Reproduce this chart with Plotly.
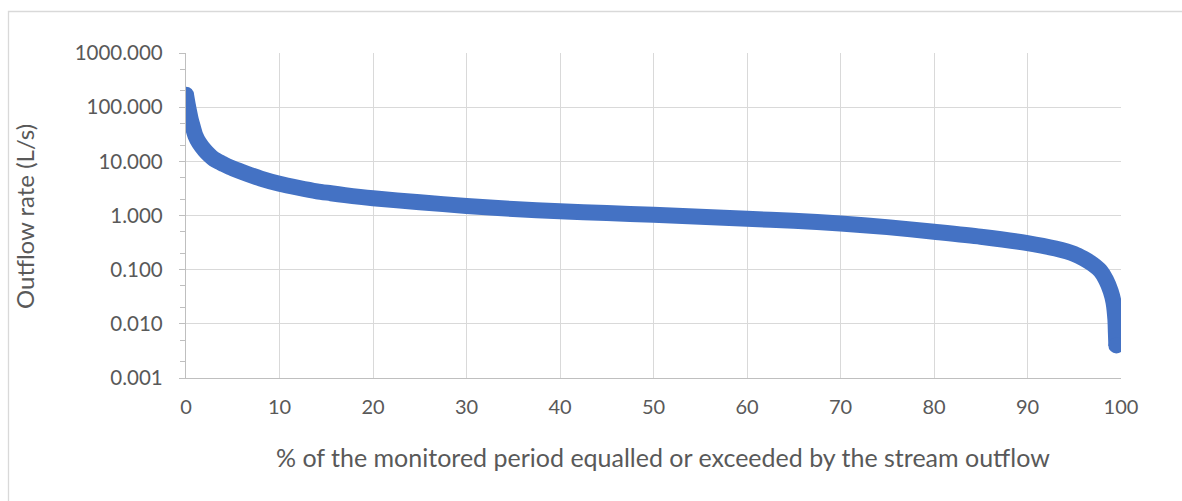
import plotly.graph_objects as go

# % of monitored period equalled or exceeded
pct = [0, 0.1, 0.2, 0.35, 0.5, 0.7, 1.0, 1.4, 2.0, 2.5, 3.0, 3.5, 4.0, 5.0, 6.5, 8.0, 10, 12,
       14, 15.5, 17, 20, 25, 30, 35, 40, 45, 50, 55, 60, 65, 70, 75, 80, 85, 90, 93, 95, 96,
       97, 97.8, 98.4, 98.9, 99.2, 99.4, 99.45, 99.5]
# Outflow rate (L/s)
flow = [170, 135, 108, 80, 60, 45, 30, 22, 16, 13, 11, 9.8, 8.9, 7.4, 5.9, 4.8, 3.85, 3.25,
        2.8, 2.58, 2.38, 2.08, 1.76, 1.50, 1.32, 1.2, 1.11, 1.03, 0.95, 0.87, 0.80, 0.71,
        0.61, 0.50, 0.405, 0.31, 0.245, 0.195, 0.16, 0.125, 0.095, 0.065, 0.04, 0.025, 0.012,
        0.007, 0.004]

x_ticks = [0, 10, 20, 30, 40, 50, 60, 70, 80, 90, 100]
y_ticks = [0.001, 0.01, 0.1, 1, 10, 100, 1000]
y_ticktext = ["0.001", "0.010", "0.100", "1.000", "10.000", "100.000", "1000.000"]

BLUE = "#4472C4"
GRID = "#d9d9d9"
AXIS = "#bfbfbf"
TXT = "#595959"
FONT = "Lato, 'Open Sans', sans-serif"

fig = go.Figure()
fig.add_trace(go.Scatter(
    x=pct, y=flow, mode="lines",
    line=dict(color=BLUE, width=16, shape="spline", smoothing=0.7),
    showlegend=False, hoverinfo="x+y",
))
# round end caps
fig.add_trace(go.Scatter(
    x=[pct[0], pct[-1]], y=[flow[0], flow[-1]], mode="markers",
    marker=dict(color=BLUE, size=16, line=dict(width=0)),
    showlegend=False, hoverinfo="skip",
))

L, R, T, B = 186, 61, 53, 123
W, H = 1182, 501
pw, ph = W - L - R, H - T - B

def px(xp):
    return (xp - L) / pw

def py(yp):
    return (H - B - yp) / ph

fig.update_layout(
    width=W, height=H,
    margin=dict(l=L, r=R, t=T, b=B, autoexpand=False),
    paper_bgcolor="white", plot_bgcolor="white",
    font=dict(family=FONT, color=TXT, size=20),
    xaxis=dict(
        range=[0, 100], tickvals=x_ticks, ticktext=[str(v) for v in x_ticks],
        showgrid=True, gridcolor=GRID, gridwidth=1.3,
        showline=True, linecolor=AXIS, linewidth=1.3,
        ticks="", ticklabelstandoff=11, zeroline=False,
        tickfont=dict(size=20, color=TXT),
    ),
    yaxis=dict(
        type="log", range=[-3, 3], tickvals=y_ticks, ticktext=y_ticktext,
        showgrid=True, gridcolor=GRID, gridwidth=1.3,
        showline=True, linecolor=AXIS, linewidth=1.3,
        ticks="outside", ticklen=6, tickcolor=AXIS, ticklabelstandoff=12,
        minor=dict(ticks="outside", ticklen=5, tickcolor=AXIS, showgrid=False),
        zeroline=False, tickfont=dict(size=20.5, color=TXT),
    ),
    shapes=[dict(
        type="rect", xref="paper", yref="paper",
        x0=px(8.5), x1=px(1400), y0=py(11.5), y1=py(700),
        line=dict(color="#d9d9d9", width=1.3), fillcolor="rgba(0,0,0,0)", layer="below",
    )],
    annotations=[
        dict(text="% of the monitored period equalled or exceeded by the stream outflow",
             xref="paper", yref="paper", x=px(663), y=py(457), showarrow=False,
             xanchor="center", yanchor="middle", font=dict(size=25, color=TXT)),
        dict(text="Outflow rate (L/s)", xref="paper", yref="paper",
             x=px(24), y=py(217), showarrow=False, textangle=-90,
             xanchor="center", yanchor="middle", font=dict(size=24, color=TXT)),
    ],
)

fig.write_html("out.html")
